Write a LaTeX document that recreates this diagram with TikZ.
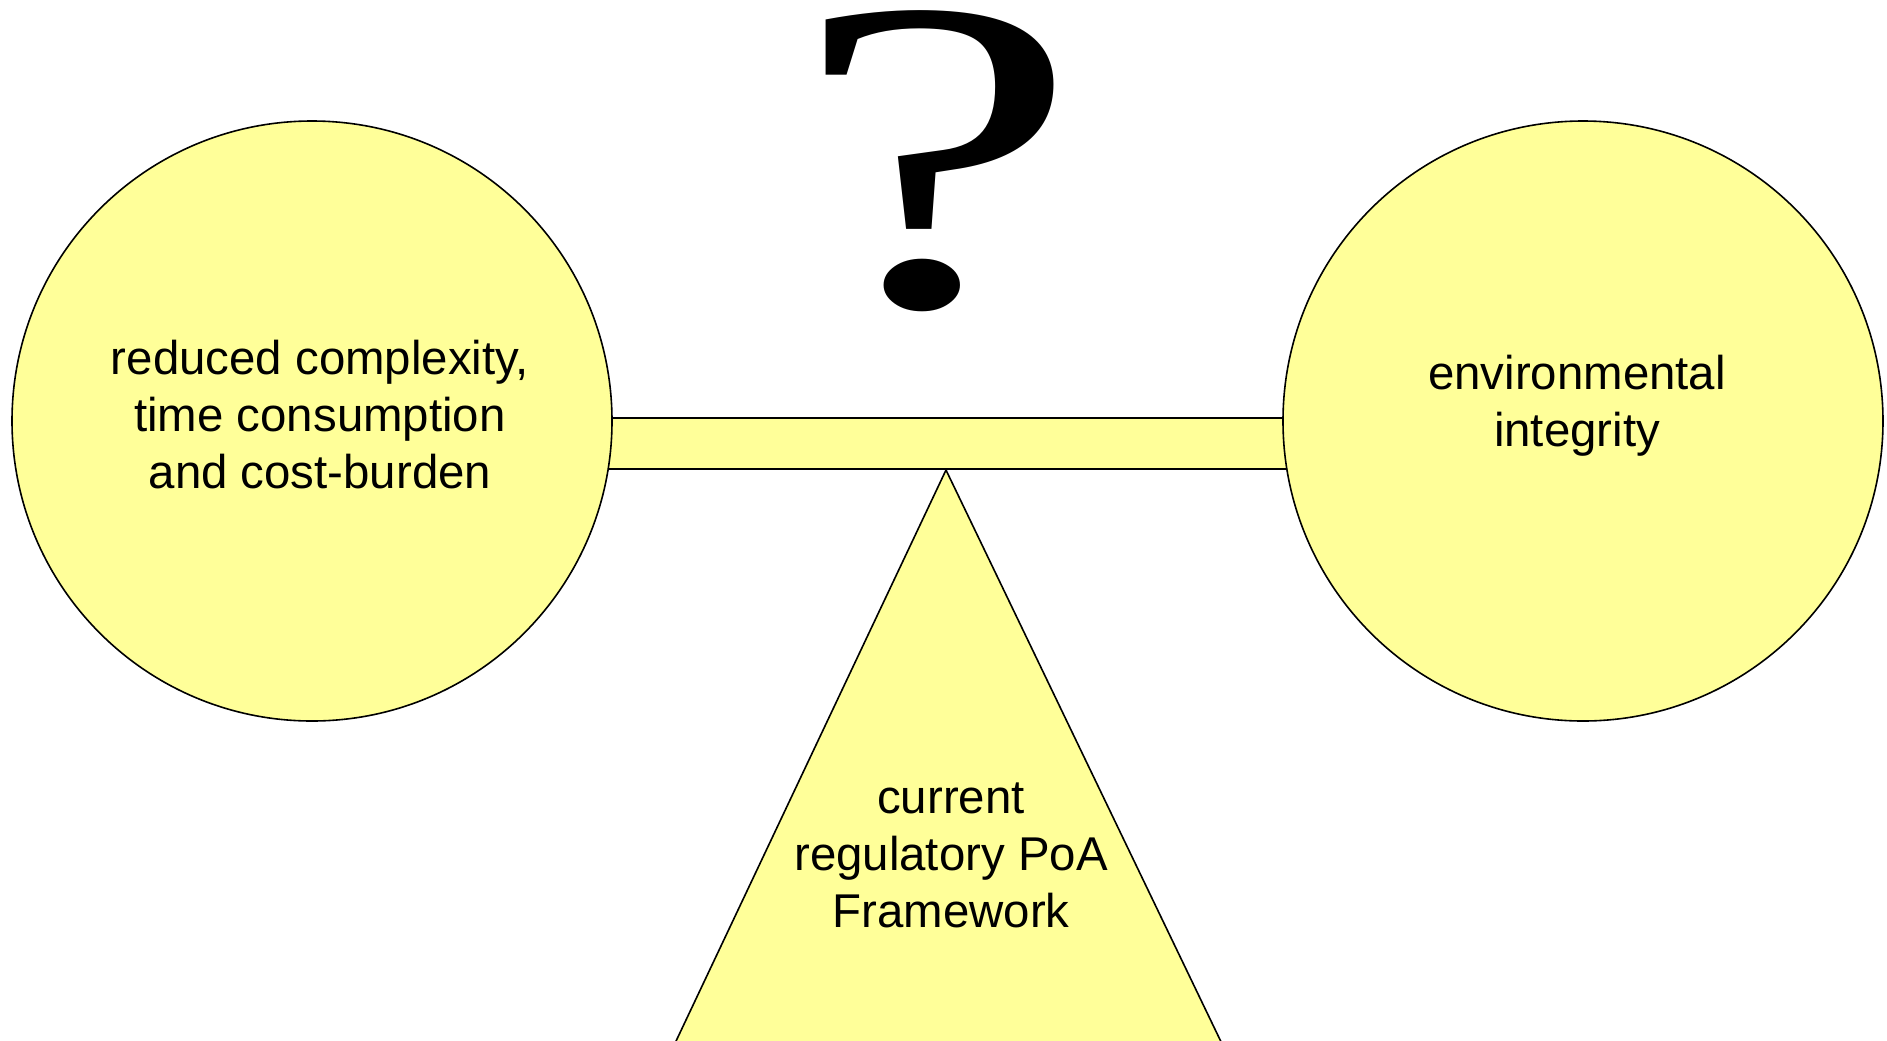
\documentclass[tikz,border=0pt]{standalone}
\usepackage{fontspec}
\setmainfont{Liberation Sans}
\newfontfamily\qfont{Liberation Serif}
\begin{document}
\begin{tikzpicture}[x=0.5pt,y=-0.5pt,
  part/.style={draw=black,line width=0.8pt,fill=paleyellow},
  label/.style={align=center,inner sep=0pt,anchor=base,
    font=\fontsize{23.7pt}{28.5pt}\selectfont}]
\definecolor{paleyellow}{HTML}{FFFF99}
\useasboundingbox[fill=white] (0,0) rectangle (1887,1040);
% fulcrum
\draw[part] (946,470) -- (660,1075) -- (1237,1075) -- cycle;
% beam
\draw[part] (600,418) rectangle (1295,469);
% the two weights
\node[part,circle,minimum size=300pt,inner sep=0pt] (left) at (312,421) {};
\node[part,circle,minimum size=300pt,inner sep=0pt] (right) at (1583,421) {};
% labels (anchored at the baseline of their last line)
\node[label] (ltext) at (320,488) {reduced complexity,\\time consumption\\and cost-burden};
\node[label] (rtext) at (1577,446) {environmental\\integrity};
\node[label] (ttext) at (951,927) {current\\regulatory PoA\\Framework};
% question mark, stretched sideways
\node[inner sep=0pt] (qmark) at (937,161) {\resizebox{144pt}{147.2pt}{\qfont ?}};
\end{tikzpicture}
\end{document}
